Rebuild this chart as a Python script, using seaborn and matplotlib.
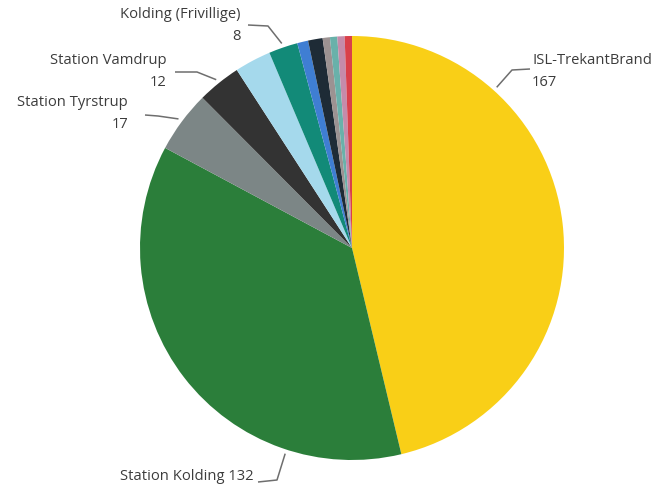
import numpy as np
import matplotlib
matplotlib.use('Agg')
import matplotlib.pyplot as plt
import seaborn as sns

# data (clockwise from 12 o'clock)
stations = ['ISL-TrekantBrand', 'Station Kolding', 'Station Tyrstrup', 'Station Vamdrup',
            'Station Christiansfeld', 'Kolding (Frivillige)', 'Station Middelfart',
            'Station Fredericia', 'Station Vejle', 'Station Børkop', 'Station Egtved',
            'Station Give']
counts = [167, 132, 17, 12, 10, 8, 3, 4, 2, 2, 2, 2]
colors = ['#F9CF17', '#2B7E3A', '#7C8686', '#333333', '#A5D9EC', '#128A78',
          '#3F7ED3', '#1E2B36', '#9C9292', '#69B1AA', '#C58BAA', '#D9404A']

# which slices get a label, and how the label reads
shown = {'ISL-TrekantBrand': 'two', 'Station Kolding': 'one', 'Station Tyrstrup': 'two',
         'Station Vamdrup': 'two', 'Kolding (Frivillige)': 'two'}

W, H = 659, 490
CX, CY, R = 352, 248, 212


def px(x, y):
    # image pixel -> data units of the pie
    return (x - CX) / R, (CY - y) / R


sns.set_style('white')
plt.rcParams['font.family'] = ['Open Sans', 'DejaVu Sans']

fig = plt.figure(figsize=(W / 100, H / 100), dpi=100)
ax = fig.add_axes([0, 0, 1, 1])
wedges, _ = ax.pie(counts, colors=sns.color_palette(colors), startangle=90,
                   counterclock=False, radius=1.0,
                   wedgeprops=dict(linewidth=0))
ax.set_xlim(-CX / R, (W - CX) / R)
ax.set_ylim(-(H - CY) / R, CY / R)
ax.axis('off')

# label layout: anchor angle override (None = wedge middle), elbow, line end, text x, text rows y
layout = {
    'ISL-TrekantBrand': (48, (512, 70), (530, 69), 532, (60, 82), 'left'),
    'Station Kolding': (252, (277, 480), (258, 482), 253, (476,), 'right'),
    'Station Tyrstrup': (None, (158, 116), (145, 115), 128, (103, 125), 'right'),
    'Station Vamdrup': (None, (197, 72), (175, 72), 166, (60, 82), 'right'),
    'Kolding (Frivillige)': (None, (268, 26), (248, 25), 241, (15, 37), 'right'),
}

txt_color = '#3C3C3C'
fs = 10.6
for w, name, n in zip(wedges, stations, counts):
    if name not in shown:
        continue
    ang, elbow, end, tx, rows, ha = layout[name]
    if ang is None:
        ang = (w.theta1 + w.theta2) / 2
    a = np.deg2rad(ang)
    x0, y0 = 1.02 * np.cos(a), 1.02 * np.sin(a)
    ex, ey = px(*elbow)
    lx, ly = px(*end)
    ax.plot([x0, ex, lx], [y0, ey, ly], color='#6E6E6E', lw=1.1, solid_capstyle='butt')
    if shown[name] == 'one':
        _, yy = px(tx, rows[0])
        ax.text(px(tx, 0)[0], yy, f'{name} {n}', ha=ha, va='center',
                fontsize=fs, color=txt_color)
    else:
        _, y1 = px(tx, rows[0])
        _, y2 = px(tx, rows[1])
        ax.text(px(tx, 0)[0], y1, name, ha=ha, va='center', fontsize=fs, color=txt_color)
        ax.text(px(tx, 0)[0], y2, str(n), ha=ha, va='center', fontsize=fs, color=txt_color)

fig.savefig('out.png', dpi=100)
